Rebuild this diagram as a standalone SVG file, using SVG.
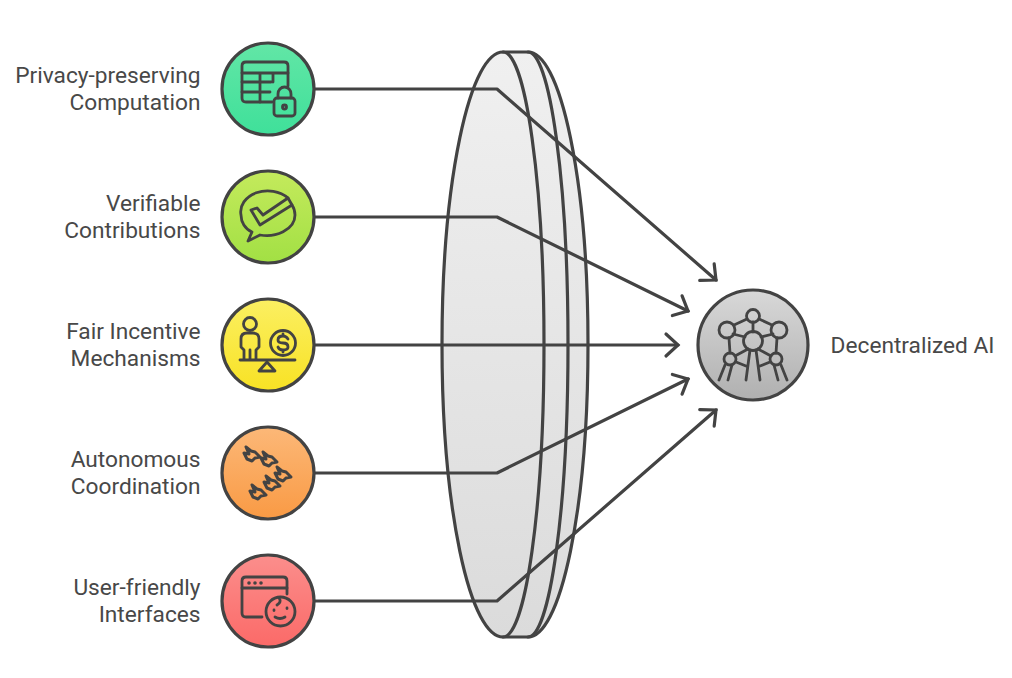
<svg xmlns="http://www.w3.org/2000/svg" width="1012" height="678" viewBox="0 0 1012 678">
<style>
.lbl{font-family:"Roboto","Liberation Sans",sans-serif;font-size:22.7px;fill:#484848;text-anchor:end}
.ln{fill:none;stroke:#434343;stroke-width:3.2;stroke-linejoin:round;stroke-linecap:round}
.ic{fill:none;stroke:#434343;stroke-width:2.8;stroke-linejoin:round;stroke-linecap:round}
.disc{stroke:#434343;stroke-width:3.2}
.dot{fill:#434343}
.bird{fill:none;stroke:#434343;stroke-width:3;stroke-linejoin:round}
</style>
<defs>
<linearGradient id="gLens" x1="0" y1="0" x2="0" y2="1"><stop offset="0" stop-color="#f0f0f0"/><stop offset="1" stop-color="#dbdbdb"/></linearGradient>
<linearGradient id="g1" x1="0" y1="0" x2="0" y2="1"><stop offset="0" stop-color="#62e6a6"/><stop offset="1" stop-color="#3fe09a"/></linearGradient>
<linearGradient id="g2" x1="0" y1="0" x2="0" y2="1"><stop offset="0" stop-color="#c4ea5c"/><stop offset="1" stop-color="#a2e044"/></linearGradient>
<linearGradient id="g3" x1="0" y1="0" x2="0" y2="1"><stop offset="0" stop-color="#fbef62"/><stop offset="1" stop-color="#f8e224"/></linearGradient>
<linearGradient id="g4" x1="0" y1="0" x2="0" y2="1"><stop offset="0" stop-color="#fcb878"/><stop offset="1" stop-color="#f99a44"/></linearGradient>
<linearGradient id="g5" x1="0" y1="0" x2="0" y2="1"><stop offset="0" stop-color="#fb8e8c"/><stop offset="1" stop-color="#fb6a68"/></linearGradient>
<linearGradient id="g6" x1="0" y1="0" x2="0" y2="1"><stop offset="0" stop-color="#d8d8d8"/><stop offset="1" stop-color="#b0b0b0"/></linearGradient>
<marker id="arr" markerUnits="userSpaceOnUse" markerWidth="30" markerHeight="30" refX="20" refY="15" orient="auto">
<path d="M8,4 L20,15 L8,26" fill="none" stroke="#434343" stroke-width="3.2" stroke-linecap="round" stroke-linejoin="miter"/>
</marker>
<path id="bd" class="bird" d="M-6,-8 L-1,-4 L3,-3 L8,2 L3,3 L0,6 L-5,4 L-8,-2 L-3,-1 Z"/>
</defs>

<g id="lens">
<path d="M503,52 L528,52 A60,292.500 0 0 1 528,637 L503,637 A61,292.500 0 0 1 503,52 Z" fill="url(#gLens)"/>
<path class="ln" d="M503,52 L528,52 A60,292.500 0 0 1 528,637 L503,637 A61,292.500 0 0 1 503,52 Z"/>
<path class="ln" d="M503,52 A41,292.500 0 0 1 503,637"/>
<path class="ln" d="M528,52 A40,292.500 0 0 1 528,637"/>
</g>

<g id="connectors">
<path class="ln" marker-end="url(#arr)" d="M314,89 L497,89 L716,280"/>
<path class="ln" marker-end="url(#arr)" d="M314,217 L497,217 L688,311"/>
<path class="ln" marker-end="url(#arr)" d="M314,345 L678,345"/>
<path class="ln" marker-end="url(#arr)" d="M314,473 L497,473 L688,379"/>
<path class="ln" marker-end="url(#arr)" d="M314,601 L497,601 L716,410"/>
</g>

<g id="node-privacy">
<circle class="disc" cx="268" cy="89" r="46" fill="url(#g1)"/>
<path class="ic" d="M272,102 L246,102 Q242,102 242,98 L242,66 Q242,62 246,62 L284,62 Q288,62 288,66 L288,86"/>
<path class="ic" d="M242,73 H288 M242,82 H271 M242,92 H270 M260,73 V102 M273,73 V82"/>
<rect class="ic" x="274" y="98" width="21" height="18" rx="3"/>
<path class="ic" d="M278,98 V94 A6.500,7 0 0 1 291,94 V98"/>
<circle class="ic" cx="284.500" cy="107" r="2"/>
<text class="lbl" x="200.500" y="82.600">Privacy-preserving</text>
<text class="lbl" x="200.500" y="109.600">Computation</text>
</g>

<g id="node-verifiable">
<circle class="disc" cx="268" cy="217" r="46" fill="url(#g2)"/>
<path class="ic" d="M288,198 A27,21 0 0 0 241,215 C241,222 245,229 252,232 L248,241 L260,235 C275,238 295,230 295,215 C295,211 294,208 292,205"/>
<path class="ic" d="M251,210 L257,208 L263,215 L288,198 L292,205 L260,225 Z"/>
<text class="lbl" x="200.500" y="210.600">Verifiable</text>
<text class="lbl" x="200.500" y="237.600">Contributions</text>
</g>

<g id="node-fair">
<circle class="disc" cx="268" cy="345" r="46" fill="url(#g3)"/>
<circle class="ic" cx="250" cy="324" r="6.500"/>
<path class="ic" d="M244,359 V350 L241,347 V339 Q241,333 247,333 L253,333 Q259,333 259,339 V347 L256,350 V359 M250,350 V359"/>
<path class="ic" d="M240,360 H295"/>
<path class="ic" d="M267,362 L275,371 H259 Z"/>
<circle class="ic" cx="283" cy="343" r="12.500"/>
<path class="ic" d="M288,339 Q286,336 283,336 Q278,336 278,340 Q278,343 283,343 Q288,343 288,347 Q288,350 283,350 Q279,350 278,347 M283,334 V336 M283,350 V352"/>
<text class="lbl" x="200.500" y="338.600">Fair Incentive</text>
<text class="lbl" x="200.500" y="365.600">Mechanisms</text>
</g>

<g id="node-autonomous">
<circle class="disc" cx="268" cy="473" r="46" fill="url(#g4)"/>
<use href="#bd" x="252" y="455"/>
<use href="#bd" x="269" y="460"/>
<use href="#bd" x="283" y="475"/>
<use href="#bd" x="272" y="484"/>
<use href="#bd" x="258" y="493"/>
<text class="lbl" x="200.500" y="466.600">Autonomous</text>
<text class="lbl" x="200.500" y="493.600">Coordination</text>
</g>

<g id="node-interfaces">
<circle class="disc" cx="268" cy="601" r="46" fill="url(#g5)"/>
<path class="ic" d="M262,617 L246,617 Q242,617 242,613 L242,581 Q242,577 246,577 L283,577 Q287,577 287,581 L287,594"/>
<path class="ic" d="M242,588 H287"/>
<circle class="dot" cx="249" cy="583" r="1.800"/><circle class="dot" cx="255" cy="583" r="1.800"/><circle class="dot" cx="261" cy="583" r="1.800"/>
<circle class="ic" cx="280.500" cy="611.500" r="14.500"/>
<path class="ic" d="M279,598 Q282,602 277,605 M274,610 V610.500 M287,608 V608.500 M275,617 Q280,620 285,617"/>
<text class="lbl" x="200.500" y="594.600">User-friendly</text>
<text class="lbl" x="200.500" y="621.600">Interfaces</text>
</g>

<g id="node-ai">
<circle class="disc" cx="753" cy="345" r="55" fill="url(#g6)"/>
<g class="ic">
<circle cx="753" cy="316" r="6.500"/>
<circle cx="727" cy="330" r="8"/>
<circle cx="779" cy="330" r="8"/>
<circle cx="753" cy="341" r="9.500"/>
<circle cx="730" cy="359" r="6"/>
<circle cx="776" cy="359" r="6"/>
<path d="M747,319 L734,325 M759,319 L772,325 M753,322 V332 M733,334 L745,337 M773,334 L761,337"/>
<path d="M729,338 L730,353 M777,338 L776,353 M748,349 L735,356 M758,349 L771,356"/>
<path d="M750,350 L746,380 M756,350 L760,380 M736,362 L746,366 M770,362 L760,366"/>
<path d="M725,365 L719,380 M732,365 L728,380 M781,365 L787,380 M774,365 L778,380"/>
</g>
<text class="lbl" x="994.500" y="352.600">Decentralized AI</text>
</g>
</svg>
